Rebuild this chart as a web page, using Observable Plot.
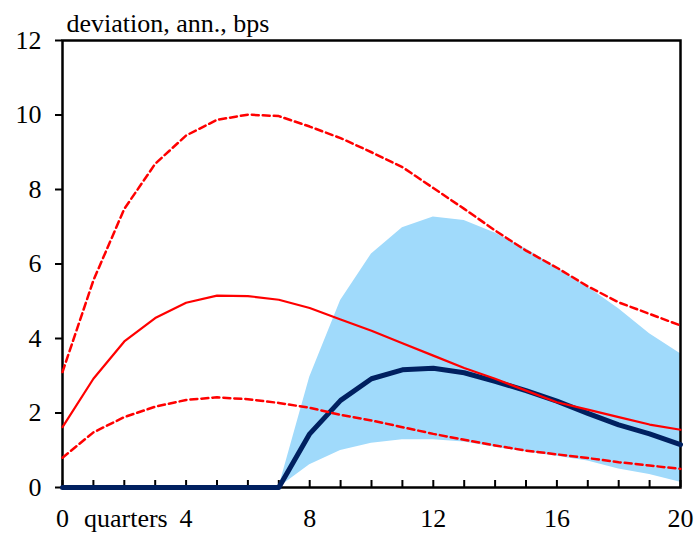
<!DOCTYPE html>
<html>
<head>
<meta charset="utf-8">
<script src="https://cdn.jsdelivr.net/npm/d3@7"></script>
<script src="https://cdn.jsdelivr.net/npm/@observablehq/plot@0.6"></script>
<style>
  body { margin: 0; background: white; }
</style>
</head>
<body>
<div id="chart"></div>
<script>
// quarters 0..20
const quarters = d3.range(0, 21);

// red solid line (central response)
const central = [1.62, 2.92, 3.92, 4.55, 4.96, 5.15, 5.14, 5.04, 4.82, 4.51, 4.21,
  3.87, 3.54, 3.21, 2.92, 2.60, 2.29, 2.09, 1.89, 1.69, 1.55];
// red dashed bounds
const upper = [3.10, 5.56, 7.48, 8.69, 9.45, 9.87, 10.01, 9.97, 9.69, 9.38, 9.00,
  8.60, 8.04, 7.48, 6.90, 6.36, 5.90, 5.40, 4.97, 4.66, 4.35];
const lower = [0.80, 1.48, 1.89, 2.17, 2.35, 2.42, 2.37, 2.27, 2.14, 1.95, 1.80,
  1.62, 1.44, 1.28, 1.13, 0.99, 0.89, 0.79, 0.68, 0.59, 0.50];
// navy thick line
const navy = [0, 0, 0, 0, 0, 0, 0, 0, 1.44, 2.34, 2.92,
  3.16, 3.20, 3.08, 2.85, 2.60, 2.32, 1.99, 1.68, 1.44, 1.15];

// light blue band, from quarter 7 on
const bandQuarters = d3.range(7, 21);
const bandHigh = [0, 2.96, 5.02, 6.27, 6.97, 7.26, 7.17, 6.83, 6.41, 5.90, 5.38, 4.80, 4.13, 3.59];
const bandLow = [0, 0.61, 0.99, 1.19, 1.28, 1.28, 1.22, 1.08, 0.95, 0.84, 0.71, 0.50, 0.35, 0.14];

const yTicks = [0, 2, 4, 6, 8, 10, 12];
const xLabels = [0, 4, 8, 12, 16, 20];

const rows = quarters.map((q, i) => ({q, central: central[i], upper: upper[i], lower: lower[i], navy: navy[i]}));
const band = bandQuarters.map((q, i) => ({q, hi: bandHigh[i], lo: bandLow[i]}));

const serif = "Liberation Serif";

const chart = Plot.plot({
  width: 694,
  height: 536,
  marginLeft: 62,
  marginRight: 14,
  marginTop: 40,
  marginBottom: 49,
  x: {domain: [0, 20]},
  y: {domain: [0, 12]},
  style: {fontFamily: serif, fontSize: "26px", color: "black", background: "white"},
  marks: [
    Plot.areaY(band, {x: "q", y1: "lo", y2: "hi", fill: "#a0dafb", curve: "linear"}),
    Plot.frame({stroke: "black", strokeWidth: 2.5}),
    Plot.axisY({ticks: yTicks, tickSize: 7, tickPadding: 14, strokeWidth: 2, label: null, fontSize: 26, fontFamily: serif}),
    Plot.axisX({ticks: quarters, tickSize: -7, strokeWidth: 2, text: null, label: null}),
    Plot.axisX({ticks: xLabels, tickSize: 0, tickPadding: 21, label: null, fontSize: 26, fontFamily: serif}),
    Plot.line(rows, {x: "q", y: "navy", stroke: "#002060", strokeWidth: 5}),
    Plot.line(rows, {x: "q", y: "upper", stroke: "#ff0000", strokeWidth: 2.5, strokeDasharray: "7,4"}),
    Plot.line(rows, {x: "q", y: "lower", stroke: "#ff0000", strokeWidth: 2.5, strokeDasharray: "7,4"}),
    Plot.line(rows, {x: "q", y: "central", stroke: "#ff0000", strokeWidth: 2.2}),
    Plot.text(["deviation, ann., bps"], {frameAnchor: "top-left", textAnchor: "start", lineAnchor: "bottom", dx: 4, dy: -9, fontSize: 26, fontFamily: serif}),
    Plot.text(["quarters"], {x: () => 2.05, frameAnchor: "bottom", lineAnchor: "top", dy: 21, fontSize: 26, fontFamily: serif})
  ]
});

d3.select("#chart").append(() => chart);
</script>
</body>
</html>
